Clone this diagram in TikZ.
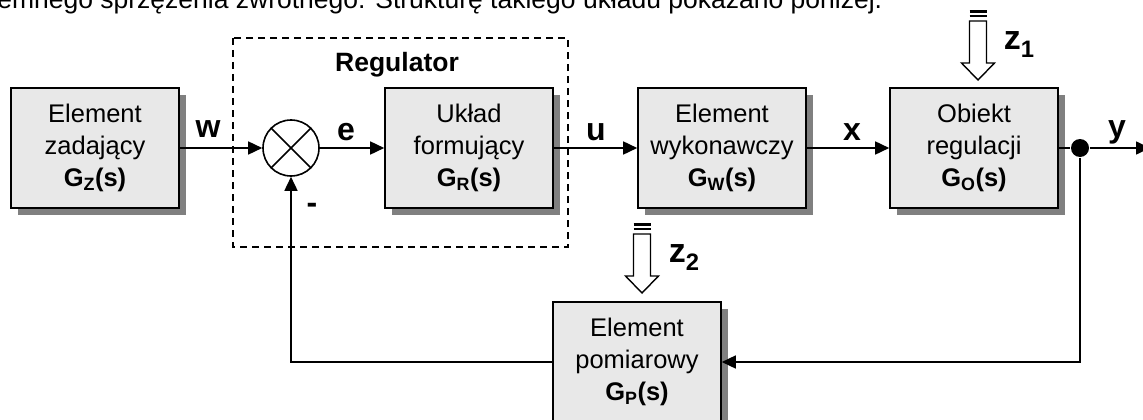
\documentclass[tikz,border=0pt]{standalone}
\usepackage{fontspec}
\setmainfont{Liberation Sans}
\usetikzlibrary{arrows.meta,shadows,calc}

\begin{document}
\begin{tikzpicture}[x=1pt, y=-1pt, line width=1.6pt, >={Triangle[length=14pt,width=13pt]},
  block/.style={draw, fill=black!9, minimum width=168pt, minimum height=120pt, inner sep=0pt, align=center,
    font=\fontsize{25.5}{32}\selectfont, drop shadow={shadow xshift=7pt, shadow yshift=-7pt, fill=black!50, opacity=1}},
  sig/.style={font=\fontsize{32}{32}\selectfont\bfseries, anchor=base, inner sep=0pt},
  dist/.style={draw, fill=white, line width=1.4pt},
  bar/.style={line width=2.6pt}]
  \useasboundingbox (0,0) rectangle (1143,420);

  % Cut-off line of text above the diagram
  \node[anchor=base east, inner sep=0pt, font=\fontsize{26.5}{26.5}\selectfont] (intro) at (883,9)
    {emnego sprzężenia zwrotnego. Strukturę takiego układu pokazano poniżej.};

  % Blocks
  \node[block] (gz) at (95,148) {Element\\zadający\\\textbf{G\textsubscript{Z}(s)}};
  \node[block] (gr) at (469,148) {Układ\\formujący\\\textbf{G\textsubscript{R}(s)}};
  \node[block] (gw) at (722,148) {Element\\wykonawczy\\\textbf{G\textsubscript{W}(s)}};
  \node[block] (go) at (974,148) {Obiekt\\regulacji\\\textbf{G\textsubscript{O}(s)}};
  \node[block] (gp) at (637,362) {Element\\pomiarowy\\\textbf{G\textsubscript{P}(s)}};

  % Summing junction and branch point
  \node[draw, circle, fill=white, minimum size=56pt, inner sep=0pt] (sum) at (291,148) {};
  \draw (sum.north west) -- (sum.south east);
  \draw (sum.north east) -- (sum.south west);
  \node[circle, fill, minimum size=18pt, inner sep=0pt] (dot) at (1080,148) {};
  \coordinate (out) at (1150,148);

  % Regulator frame
  \draw[dash pattern=on 7pt off 5pt] (233,38) rectangle (568,247);
  \node[anchor=base, inner sep=0pt, font=\fontsize{26.5}{26.5}\selectfont\bfseries] (reg) at (397,71) {Regulator};

  % Signal paths
  \draw[->] (gz) -- (sum);
  \draw[->] (sum) -- (gr);
  \draw[->] (gr) -- (gw);
  \draw[->] (gw) -- (go);
  \draw (go) -- (dot);
  \draw[->] (dot) -- (out);
  \draw[->] (dot) |- (gp);
  \draw[->] (gp) -| (sum);

  % Signal labels
  \node[sig] (w) at (208,137) {w};
  \node[sig] (e) at (346,140) {e};
  \node[sig] (u) at (596,140) {u};
  \node[sig] (x) at (852,140) {x};
  \node[sig] (y) at (1117,137) {y};
  \node[sig] (minus) at (312,213) {-};

  % Disturbances
  \coordinate (z1tip) at (978,80);
  \draw[dist] (z1tip) -- ++(-16.5,-17) -- ++(8,0) -- ++(0,-42) -- ++(17,0) -- ++(0,42) -- ++(8,0) -- cycle;
  \draw[bar] ($(z1tip)+(-8.5,-64)$) -- ++(17,0);
  \draw[bar] ($(z1tip)+(-8.5,-68.5)$) -- ++(17,0);
  \node[anchor=base west, inner sep=0pt, font=\fontsize{34}{34}\selectfont\bfseries] (z1) at (1003,50) {z\textsubscript{1}};

  \coordinate (z2tip) at (642,293);
  \draw[dist] (z2tip) -- ++(-16.5,-17) -- ++(8,0) -- ++(0,-42) -- ++(17,0) -- ++(0,42) -- ++(8,0) -- cycle;
  \draw[bar] ($(z2tip)+(-8.5,-64)$) -- ++(17,0);
  \draw[bar] ($(z2tip)+(-8.5,-68.5)$) -- ++(17,0);
  \node[anchor=base west, inner sep=0pt, font=\fontsize{34}{34}\selectfont\bfseries] (z2) at (668,262) {z\textsubscript{2}};
\end{tikzpicture}
\end{document}
